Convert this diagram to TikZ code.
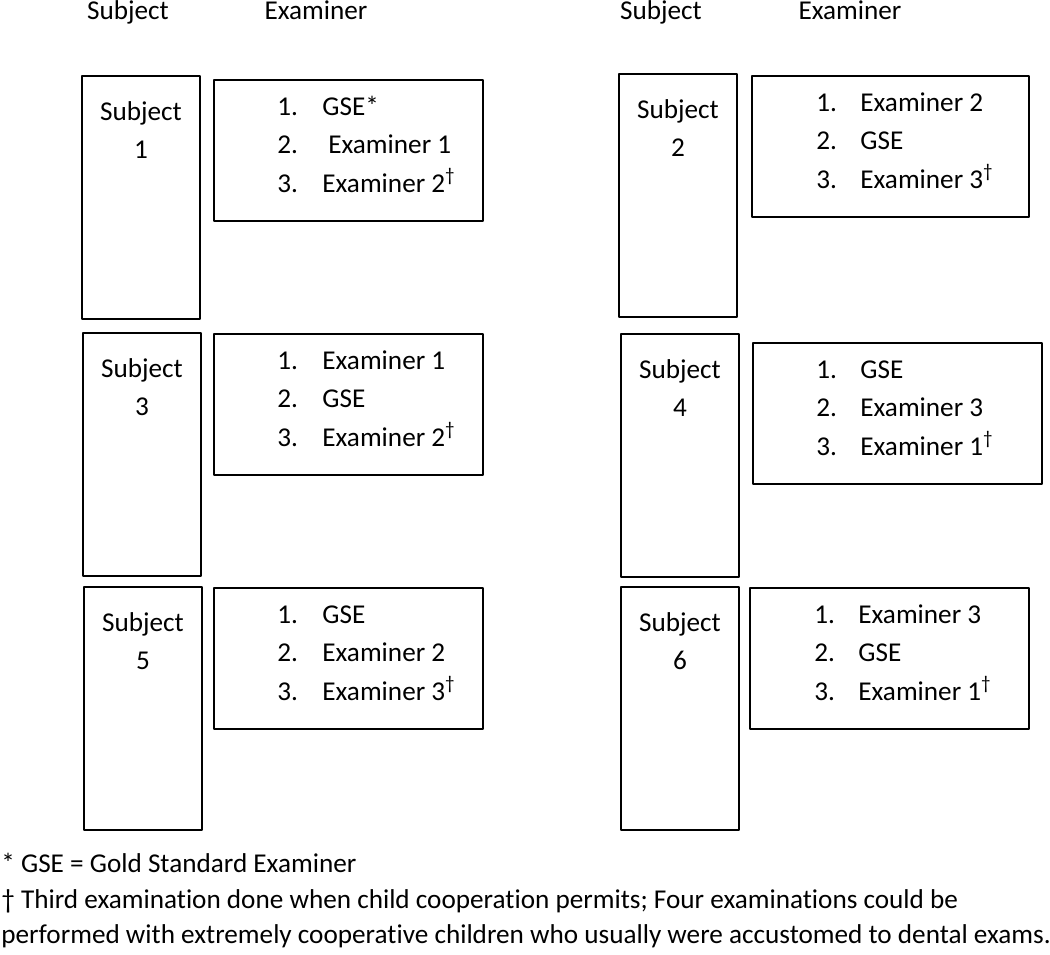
\documentclass[tikz,border=0pt]{standalone}
\usepackage{fontspec}
\setmainfont{Carlito}[Ligatures=NoCommon]
\usetikzlibrary{calc}
\tikzset{
  subjbox/.style={draw, line width=1pt, anchor=north west, inner sep=0pt, minimum width=59pt, minimum height=121.5pt},
  exambox/.style={draw, line width=1pt, anchor=north west, inner sep=0pt, minimum height=70.5pt},
  subjtext/.style={inner sep=0pt, anchor=base},
  listtext/.style={inner sep=0pt, anchor=base west},
}
\newcommand{\dg}{\textsuperscript{†}}
\begin{document}
\begin{tikzpicture}[x=0.5pt, y=-0.5pt, font=\fontsize{13.6}{19.25}\selectfont, line join=round]
    \useasboundingbox (0,0) rectangle (1050,954);
    % column heads
    \node[subjtext] (hs1) at (128,19) {Subject};
    \node[subjtext] (he1) at (316,19) {Examiner};
    \node[subjtext] (hs2) at (661,19) {Subject};
    \node[subjtext] (he2) at (850,19) {Examiner};
    % subject 1
    \node[subjbox] (s1) at (81,75) {};
    \node[subjtext] (t1) at ($(s1.north)+(0,45)$) {\begin{tabular}[t]{@{}c@{}}Subject\\1\end{tabular}};
    \node[exambox, minimum width=134.5pt] (e1) at (213,79) {};
    \node[listtext] (l1) at ($(e1.north west)+(64,36)$) {\begin{tabular}[t]{@{}p{22.5pt}@{}l@{}}1.&GSE*\\2.&\hspace{3pt}Examiner 1\\3.&Examiner 2\dg\end{tabular}};
    % subject 2
    \node[subjbox] (s2) at (618,73) {};
    \node[subjtext] (t2) at ($(s2.north)+(0,45)$) {\begin{tabular}[t]{@{}c@{}}Subject\\2\end{tabular}};
    \node[exambox, minimum width=138.5pt] (e2) at (751,75) {};
    \node[listtext] (l2) at ($(e2.north west)+(65,36)$) {\begin{tabular}[t]{@{}p{22pt}@{}l@{}}1.&Examiner 2\\2.&GSE\\3.&Examiner 3\dg\end{tabular}};
    % subject 3
    \node[subjbox] (s3) at (82,332) {};
    \node[subjtext] (t3) at ($(s3.north)+(0,45)$) {\begin{tabular}[t]{@{}c@{}}Subject\\3\end{tabular}};
    \node[exambox, minimum width=134.5pt] (e3) at (213,333) {};
    \node[listtext] (l3) at ($(e3.north west)+(64,36)$) {\begin{tabular}[t]{@{}p{22.5pt}@{}l@{}}1.&Examiner 1\\2.&GSE\\3.&Examiner 2\dg\end{tabular}};
    % subject 4
    \node[subjbox] (s4) at (620,333) {};
    \node[subjtext] (t4) at ($(s4.north)+(0,45)$) {\begin{tabular}[t]{@{}c@{}}Subject\\4\end{tabular}};
    \node[exambox, minimum width=144.5pt] (e4) at (752,342) {};
    \node[listtext] (l4) at ($(e4.north west)+(64,36)$) {\begin{tabular}[t]{@{}p{22pt}@{}l@{}}1.&GSE\\2.&Examiner 3\\3.&Examiner 1\dg\end{tabular}};
    % subject 5
    \node[subjbox] (s5) at (83,586) {};
    \node[subjtext] (t5) at ($(s5.north)+(0,45)$) {\begin{tabular}[t]{@{}c@{}}Subject\\5\end{tabular}};
    \node[exambox, minimum width=134.5pt] (e5) at (213,587) {};
    \node[listtext] (l5) at ($(e5.north west)+(64,36)$) {\begin{tabular}[t]{@{}p{22.5pt}@{}l@{}}1.&GSE\\2.&Examiner 2\\3.&Examiner 3\dg\end{tabular}};
    % subject 6
    \node[subjbox] (s6) at (620,586) {};
    \node[subjtext] (t6) at ($(s6.north)+(0,45)$) {\begin{tabular}[t]{@{}c@{}}Subject\\6\end{tabular}};
    \node[exambox, minimum width=139.5pt] (e6) at (749,587) {};
    \node[listtext] (l6) at ($(e6.north west)+(65,36)$) {\begin{tabular}[t]{@{}p{22pt}@{}l@{}}1.&Examiner 3\\2.&GSE\\3.&Examiner 1\dg\end{tabular}};
    % notes
    \node[listtext] (n1) at (1,872) {* GSE = Gold Standard Examiner};
    \node[listtext] (n2) at (1,908) {† Third examination done when child cooperation permits; Four examinations could be};
    \node[listtext] (n3) at (1,943) {performed with extremely cooperative children who usually were accustomed to dental exams.};
\end{tikzpicture}
\end{document}
